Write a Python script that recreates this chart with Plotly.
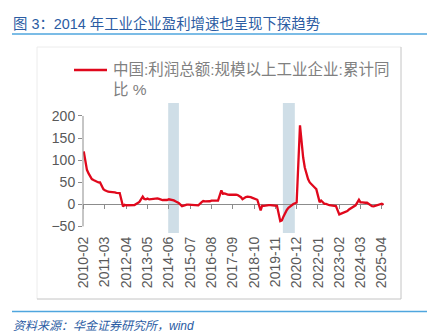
import plotly.graph_objects as go

# ---------------- data ----------------
years = list(range(2010, 2026))
# cumulative YoY (%), Feb..Dec each year (Jan-Feb combined release)
values_by_year = {
    2010: [119.7, 98.0, 78.0, 70.0, 63.0, 57.0, 55.0, 53.0, 51.0, 49.5, 49.4],
    2011: [34.3, 32.0, 30.0, 28.5, 28.2, 28.3, 28.0, 27.0, 26.0, 25.5, 25.4],
    2012: [-5.2, -1.3, -2.2, -2.4, -2.2, -2.7, -3.1, -1.8, 0.5, 3.0, 5.3],
    2013: [17.2, 12.1, 11.4, 13.2, 11.1, 11.6, 12.8, 13.5, 13.7, 13.2, 12.2],
    2014: [9.4, 10.1, 9.6, 9.8, 11.4, 11.0, 10.0, 8.8, 6.7, 4.3, 3.3],
    2015: [-4.2, -2.7, -1.3, -0.8, -0.7, -1.0, -1.9, -1.7, -2.0, -1.9, -2.3],
    2016: [4.8, 7.4, 6.5, 6.4, 6.2, 6.9, 8.4, 8.4, 8.6, 9.4, 8.5],
    2017: [31.5, 23.8, 24.4, 22.7, 22.0, 21.6, 21.6, 22.8, 23.3, 21.9, 21.0],
    2018: [16.1, 11.6, 15.0, 16.5, 17.2, 17.1, 16.2, 14.7, 13.6, 11.8, 10.3],
    2019: [-14.0, -3.3, -3.4, -2.3, -2.4, -1.7, -1.7, -2.1, -2.9, -2.1, -3.3],
    2020: [-38.3, -36.7, -27.4, -19.3, -12.8, -8.1, -4.4, -2.4, 0.7, 2.4, 4.1],
    2021: [178.9, 137.3, 106.0, 83.4, 66.9, 57.3, 49.5, 44.7, 42.2, 38.0, 34.3],
    2022: [5.0, 8.5, 3.5, 1.0, 1.0, -1.1, -2.1, -2.3, -3.0, -3.6, -4.0],
    2023: [-22.9, -21.4, -20.6, -18.8, -16.8, -15.5, -11.7, -9.0, -7.8, -4.4, -2.3],
    2024: [10.2, 4.3, 4.3, 3.4, 3.5, 3.6, 0.5, -3.5, -4.3, -4.7, -3.3],
    2025: [-0.3, 0.8, 1.4, -1.1],
}
dates = []
profit_yoy = []
for yr in years:
    for i, v in enumerate(values_by_year[yr]):
        dates.append(f"{yr}-{i + 2:02d}-01")
        profit_yoy.append(v)

tick_labels = ["2010-02", "2011-03", "2012-04", "2013-05", "2014-06", "2015-07",
               "2016-08", "2017-09", "2018-10", "2019-11", "2020-12", "2022-01",
               "2023-02", "2024-03", "2025-04"]
tick_dates = [t + "-01" for t in tick_labels]
y_ticks = [-50, 0, 50, 100, 150, 200]

# shaded periods
band_periods = [("2014-05-20", "2014-12-05"), ("2020-03-20", "2020-10-28")]

series_name = "中国:利润总额:规模以上工业企业:累计同比 %"
title_text = "图 3：2014 年工业企业盈利增速也呈现下探趋势"
source_text = "资料来源：华金证券研究所，wind"

# ---------------- layout geometry ----------------
W, H = 430, 334
PL, PR, PT, PB = 83, 384, 103, 233   # plot area in pixels
Y_MIN, Y_MAX = -65, 229.4
X_RANGE = ["2010-01-18", "2025-05-12"]


def xp(px):
    return (px - PL) / (PR - PL)


def yp(py):
    return (PB - py) / (PB - PT)


FONT = "Liberation Sans, Arial, Noto Sans CJK SC, sans-serif"
RED = "#E0081C"
GRAY_TXT = "#595959"
AXIS_GRAY = "#8c8c8c"
BLUE_TXT = "#2B5CA3"

fig = go.Figure()

# invisible trace on main x axis (holds tick labels)
fig.add_trace(go.Scatter(x=dates, y=profit_yoy, mode="lines", line=dict(width=0),
                         opacity=0, hoverinfo="skip", showlegend=False,
                         xaxis="x", yaxis="y"))
# visible red line on overlay axis (drawn above the zero line)
fig.add_trace(go.Scatter(x=dates, y=profit_yoy, mode="lines", name=series_name,
                         line=dict(color=RED, width=2.3), showlegend=False,
                         xaxis="x2", yaxis="y"))

zero_pos = (0 - Y_MIN) / (Y_MAX - Y_MIN)

shapes = []
for a, b in band_periods:
    shapes.append(dict(type="rect", xref="x", yref="paper", x0=a, x1=b, y0=0, y1=1,
                       fillcolor="#CFDEE7", line=dict(width=0), layer="below"))
# y axis line from -50 to 200
shapes.append(dict(type="line", xref="paper", yref="y", x0=0, x1=0,
                   y0=y_ticks[0], y1=y_ticks[-1], line=dict(color=AXIS_GRAY, width=1)))
# title underline
shapes.append(dict(type="line", xref="paper", yref="paper", x0=xp(12), x1=xp(427),
                   y0=yp(34), y1=yp(34), line=dict(color="#4FA6DE", width=1.5)))
# footer line
shapes.append(dict(type="line", xref="paper", yref="paper", x0=xp(12), x1=xp(427),
                   y0=yp(311.5), y1=yp(311.5), line=dict(color="#4FA6DE", width=1.5)))
# chart frame
bx0, bx1, by0, by1 = 37, 401, 47, 299
shapes.append(dict(type="line", xref="paper", yref="paper", x0=xp(bx0), x1=xp(bx1),
                   y0=yp(by0), y1=yp(by0), line=dict(color="#ececec", width=1)))
shapes.append(dict(type="line", xref="paper", yref="paper", x0=xp(bx0), x1=xp(bx0),
                   y0=yp(by0), y1=yp(by1), line=dict(color="#ececec", width=1)))
shapes.append(dict(type="line", xref="paper", yref="paper", x0=xp(bx1), x1=xp(bx1),
                   y0=yp(by0), y1=yp(by1), line=dict(color="#c4c4c4", width=1)))
shapes.append(dict(type="line", xref="paper", yref="paper", x0=xp(bx0), x1=xp(bx1),
                   y0=yp(by1), y1=yp(by1), line=dict(color="#c4c4c4", width=1)))
# legend swatch
shapes.append(dict(type="line", xref="paper", yref="paper", x0=xp(74), x1=xp(107),
                   y0=yp(70), y1=yp(70), line=dict(color=RED, width=2.5)))

legend_label = series_name.replace("累计同比", "累计同<br>比")

annotations = [
    dict(text=title_text, xref="paper", yref="paper", x=xp(11), y=yp(24),
         xanchor="left", yanchor="middle", showarrow=False,
         font=dict(family=FONT, size=14.4, color=BLUE_TXT)),
    dict(text="<i>" + source_text + "</i>", xref="paper", yref="paper", x=xp(11), y=yp(326),
         xanchor="left", yanchor="middle", showarrow=False,
         font=dict(family=FONT, size=12, color=BLUE_TXT)),
    dict(text=legend_label, xref="paper", yref="paper", x=xp(111), y=yp(59),
         xanchor="left", yanchor="top", align="left", showarrow=False,
         font=dict(family=FONT, size=15.5, color="#808080")),
]

fig.update_layout(
    width=W, height=H,
    margin=dict(l=PL, r=W - PR, t=PT, b=H - PB, pad=0),
    paper_bgcolor="white", plot_bgcolor="white",
    showlegend=False,
    font=dict(family=FONT, size=14, color=GRAY_TXT),
    xaxis=dict(type="date", range=X_RANGE, tickvals=tick_dates, ticktext=tick_labels,
               tickangle=-90, ticks="", showline=False, showgrid=False, zeroline=False,
               tickfont=dict(family=FONT, size=14, color=GRAY_TXT)),
    xaxis2=dict(type="date", range=X_RANGE, overlaying="x", anchor="free",
                position=zero_pos, side="bottom", tickvals=tick_dates,
                showticklabels=False, ticks="outside", ticklen=4, tickcolor=AXIS_GRAY,
                showline=True, linecolor=AXIS_GRAY, linewidth=1, showgrid=False,
                zeroline=False, layer="below traces"),
    yaxis=dict(range=[Y_MIN, Y_MAX], tickvals=y_ticks, ticks="outside", ticklen=4,
               tickcolor=AXIS_GRAY, showline=False, showgrid=False, zeroline=False,
               tickfont=dict(family=FONT, size=14, color=GRAY_TXT)),
    shapes=shapes,
    annotations=annotations,
)

fig.write_html("out.html")
